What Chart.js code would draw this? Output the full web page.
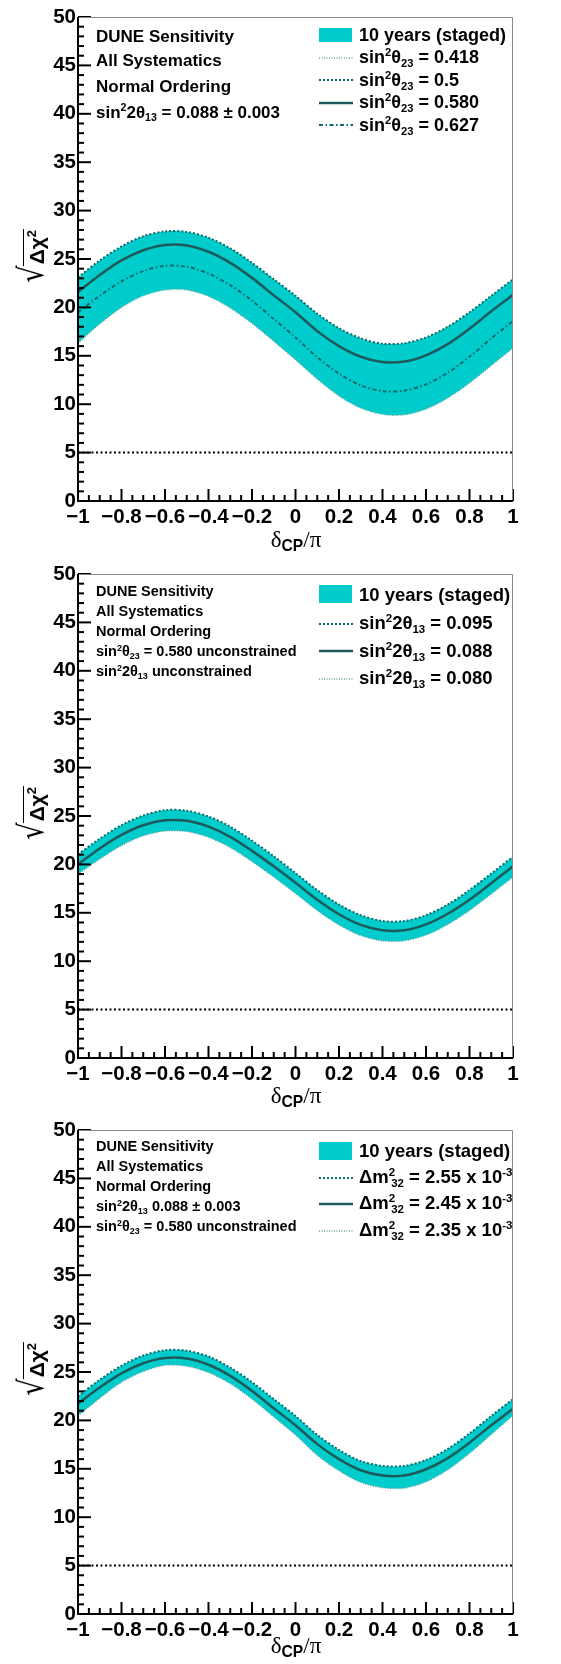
<!DOCTYPE html>
<html>
<head>
<meta charset="utf-8">
<title>DUNE CP sensitivity</title>
<script src="https://cdn.jsdelivr.net/npm/chart.js@4.4.1/dist/chart.umd.min.js"></script>
<style>
  html, body { margin: 0; padding: 0; background: #fff; }
  body { width: 561px; height: 1664px; position: relative; overflow: hidden;
         font-family: "Liberation Sans", Arial, sans-serif; font-weight: bold; color: #000; }
  .panel { position: absolute; left: 0; width: 561px; }
  .panel canvas { position: absolute; left: 0; top: 0; }
  .txt { position: absolute; white-space: nowrap; line-height: 1; }
  sup, sub { font-size: 0.62em; line-height: 0; position: relative; vertical-align: baseline; }
  sup { top: -0.62em; }
  sub { top: 0.34em; }
  .sym { position: absolute; }
  .ytitle { position: absolute; white-space: nowrap; transform: translate(-50%, -50%) rotate(-90deg);
            font-size: 21px; line-height: 1; display: flex; align-items: flex-end; }
  .ytitle .rad { font-family: "DejaVu Sans", sans-serif; font-weight: normal; font-size: 34px; line-height: 1;
                 transform: scaleX(0.8); margin-right: -3px; }
  .ytitle .under { border-top: 1.5px solid #000; padding: 1px 1px 0 2px; line-height: 1.1; }
  .xtitle { position: absolute; white-space: nowrap; line-height: 1; font-size: 23px; transform: translateX(-50%); }
  .xtitle .gr { font-family: "Liberation Serif", serif; font-weight: normal; }
  .xtitle sub { font-size: 0.68em; top: 0.3em; }
</style>
</head>
<body>
<script>
// delta_CP / pi sample points
const deltaCP = [-1, -0.9, -0.8, -0.7, -0.6, -0.5, -0.4, -0.3, -0.2, -0.1, 0,
                 0.1, 0.2, 0.3, 0.4, 0.5, 0.6, 0.7, 0.8, 0.9, 1];

// panel 1: sin^2 theta23 variations
const th23_0500 = [23.1, 24.85, 26.3, 27.35, 27.85, 27.8, 27.2, 26.1, 24.6, 22.9, 21.2,
                   19.35, 17.85, 16.8, 16.25, 16.3, 16.9, 18.0, 19.5, 21.2, 22.9];
const th23_0580 = [21.6, 23.35, 24.85, 25.9, 26.45, 26.4, 25.75, 24.6, 23.05, 21.25, 19.5,
                   17.55, 16.0, 14.9, 14.35, 14.4, 15.05, 16.2, 17.8, 19.6, 21.3];
const th23_0627 = [19.5, 21.2, 22.7, 23.75, 24.3, 24.2, 23.5, 22.3, 20.7, 18.8, 16.9,
                   14.85, 13.15, 11.95, 11.35, 11.4, 12.05, 13.25, 14.9, 16.8, 18.6];
const th23_0418 = [16.3, 18.3, 20.0, 21.2, 21.8, 21.8, 21.15, 19.95, 18.35, 16.5, 14.6,
                   12.6, 10.85, 9.6, 8.95, 8.9, 9.5, 10.65, 12.2, 14.0, 15.8];

// panel 2: sin^2 2theta13 variations
const th13_0095 = [21.05, 22.65, 24.05, 25.05, 25.6, 25.55, 24.95, 23.9, 22.45, 20.85, 19.1,
                   17.35, 15.85, 14.75, 14.15, 14.15, 14.75, 15.85, 17.35, 19.05, 20.8];
const th13_0088 = [20.0, 21.65, 23.05, 24.05, 24.55, 24.5, 23.9, 22.85, 21.4, 19.8, 18.1,
                   16.35, 14.85, 13.75, 13.2, 13.2, 13.8, 14.9, 16.35, 18.05, 19.8];
const th13_0080 = [19.0, 20.55, 21.95, 22.95, 23.45, 23.4, 22.8, 21.75, 20.3, 18.7, 17.0,
                   15.25, 13.75, 12.65, 12.1, 12.1, 12.7, 13.8, 15.25, 16.95, 18.7];

// panel 3: dm^2_32 variations
const dm32_255 = [22.5, 24.2, 25.65, 26.7, 27.25, 27.2, 26.6, 25.45, 23.95, 22.2, 20.45,
                  18.5, 16.95, 15.8, 15.3, 15.3, 15.9, 17.05, 18.65, 20.45, 22.2];
const dm32_245 = [21.75, 23.4, 24.85, 25.9, 26.45, 26.4, 25.75, 24.6, 23.05, 21.25, 19.5,
                  17.55, 16.0, 14.85, 14.3, 14.3, 14.95, 16.1, 17.7, 19.5, 21.2];
const dm32_235 = [20.5, 22.3, 23.95, 25.05, 25.7, 25.6, 24.95, 23.8, 22.2, 20.35, 18.5,
                  16.4, 14.8, 13.6, 13.05, 13.0, 13.65, 14.9, 16.6, 18.55, 20.5];

// 5 sigma reference line
const fiveSigmaX = [-1, 1];
const fiveSigmaY = [5, 5];

// axis ticks
const xTickValues = [-1, -0.8, -0.6, -0.4, -0.2, 0, 0.2, 0.4, 0.6, 0.8, 1];
const yTickValues = [0, 5, 10, 15, 20, 25, 30, 35, 40, 45, 50];

// texts
const bandLabel = '10 years (staged)';
const notes1 = ['DUNE Sensitivity', 'All Systematics', 'Normal Ordering',
                'sin<sup>2</sup>2θ<sub>13</sub> = 0.088 ± 0.003'];
const notes2 = ['DUNE Sensitivity', 'All Systematics', 'Normal Ordering',
                'sin<sup>2</sup>θ<sub>23</sub> = 0.580 unconstrained',
                'sin<sup>2</sup>2θ<sub>13</sub> unconstrained'];
const notes3 = ['DUNE Sensitivity', 'All Systematics', 'Normal Ordering',
                'sin<sup>2</sup>2θ<sub>13</sub> 0.088 ± 0.003',
                'sin<sup>2</sup>θ<sub>23</sub> = 0.580 unconstrained'];
const legend1 = ['sin<sup>2</sup>θ<sub>23</sub> = 0.418', 'sin<sup>2</sup>θ<sub>23</sub> = 0.5',
                 'sin<sup>2</sup>θ<sub>23</sub> = 0.580', 'sin<sup>2</sup>θ<sub>23</sub> = 0.627'];
const legend2 = ['sin<sup>2</sup>2θ<sub>13</sub> = 0.095', 'sin<sup>2</sup>2θ<sub>13</sub> = 0.088',
                 'sin<sup>2</sup>2θ<sub>13</sub> = 0.080'];
const dmSym = 'Δm<sup>2</sup><sub style="margin-left:-0.345em">32</sub>';
const legend3 = [dmSym + ' = 2.55 x 10<sup>-3</sup>', dmSym + ' = 2.45 x 10<sup>-3</sup>',
                 dmSym + ' = 2.35 x 10<sup>-3</sup>'];

const BAND = '#00cccc';
const styles = {
  upper:   { color: '#0b6c6d', width: 2,   dash: [2, 2] },
  lower:   { color: '#64a7a7', width: 1.5, dash: [1, 1.5] },
  solid:   { color: '#1d5a5b', width: 2.5, dash: [] },
  dashdot: { color: '#0b6c6d', width: 2,   dash: [4, 2.5, 1.5, 2.5] }
};

const pts = ys => deltaCP.map((x, i) => ({ x: x, y: ys[i] }));

// ROOT-like inward ticks and frame
const rootFrame = {
  id: 'rootFrame',
  afterDatasetsDraw(chart) {
    const { ctx, chartArea: a, scales: { x, y } } = chart;
    ctx.save();
    ctx.strokeStyle = '#000';
    ctx.lineWidth = 2;
    for (let v = 0; v <= 50; v++) {
      const py = y.getPixelForValue(v);
      const len = v % 5 === 0 ? 13 : 6;
      ctx.beginPath(); ctx.moveTo(a.left, py); ctx.lineTo(a.left + len, py); ctx.stroke();
    }
    for (let i = 0; i <= 40; i++) {
      const px = x.getPixelForValue(-1 + i * 0.05);
      const len = i % 4 === 0 ? 12 : 6;
      ctx.beginPath(); ctx.moveTo(px, a.bottom); ctx.lineTo(px, a.bottom - len); ctx.stroke();
    }
    ctx.strokeStyle = '#888';
    ctx.lineWidth = 1;
    ctx.beginPath();
    ctx.moveTo(a.left, a.top + 0.5); ctx.lineTo(a.right - 0.5, a.top + 0.5); ctx.lineTo(a.right - 0.5, a.bottom);
    ctx.stroke();
    ctx.strokeStyle = '#000';
    ctx.lineWidth = 2;
    ctx.beginPath();
    ctx.moveTo(a.left, a.top); ctx.lineTo(a.left, a.bottom); ctx.lineTo(a.right, a.bottom);
    ctx.stroke();
    ctx.restore();
  }
};

function lineSet(ys, st, order) {
  return {
    data: pts(ys), borderColor: st.color, borderWidth: st.width, borderDash: st.dash,
    pointRadius: 0, fill: false, tension: 0.3, order: order
  };
}

function makePanel(p) {
  const div = document.createElement('div');
  div.className = 'panel';
  div.style.top = p.top + 'px';
  div.style.height = p.height + 'px';
  const cv = document.createElement('canvas');
  cv.width = 561; cv.height = p.height;
  div.appendChild(cv);
  document.body.appendChild(div);

  const datasets = [
    // band (filled to the lower edge, dataset 1)
    { data: pts(p.upper), borderWidth: 0, pointRadius: 0, backgroundColor: BAND,
      fill: { target: 1, above: BAND, below: BAND }, tension: 0.3, order: 100 },
    lineSet(p.lower, styles.lower, 50),
    lineSet(p.upper, styles.upper, 49)
  ];
  p.extra.forEach((e, i) => datasets.push(lineSet(e.ys, styles[e.style], 40 - i)));
  datasets.push({
    data: fiveSigmaX.map((x, i) => ({ x: x, y: fiveSigmaY[i] })),
    borderColor: '#000', borderWidth: 2, borderDash: [2, 2.5], pointRadius: 0, fill: false, order: 1
  });

  new Chart(cv.getContext('2d'), {
    type: 'line',
    data: { datasets: datasets },
    options: {
      responsive: false, animation: false, devicePixelRatio: 1,
      layout: { padding: { top: 17, right: 48, left: 0, bottom: 0 } },
      plugins: { legend: { display: false }, tooltip: { enabled: false } },
      scales: {
        x: {
          type: 'linear', min: -1, max: 1,
          afterBuildTicks: s => { s.ticks = xTickValues.map(v => ({ value: v })); },
          afterFit: s => { s.height = p.height - 501; },
          grid: { display: false, drawTicks: false }, border: { display: false },
          ticks: {
            autoSkip: false, maxRotation: 0, color: '#000', padding: 4,
            font: { family: 'Liberation Sans', weight: 'bold', size: 20.5 },
            callback: v => (v < 0 ? '\u2212' : '') + Math.abs(Math.round(v * 10) / 10)
          }
        },
        y: {
          type: 'linear', min: 0, max: 50,
          afterBuildTicks: s => { s.ticks = yTickValues.map(v => ({ value: v })); },
          afterFit: s => { s.width = 78; },
          grid: { display: false, drawTicks: false }, border: { display: false },
          ticks: {
            autoSkip: false, color: '#000', padding: 2,
            font: { family: 'Liberation Sans', weight: 'bold', size: 20.5 }
          }
        }
      }
    },
    plugins: [rootFrame]
  });

  // text overlays
  const addText = (x, base, size, html) => {
    const d = document.createElement('div');
    d.className = 'txt';
    d.style.left = x + 'px';
    d.style.top = (base - 0.8465 * size) + 'px';
    d.style.fontSize = size + 'px';
    d.innerHTML = html;
    document.body.appendChild(d);
  };
  p.notes.forEach((t, i) => addText(96, p.noteBase[i], p.noteSize, t));

  const box = document.createElement('div');
  box.className = 'sym';
  box.style.cssText = `left:319px;top:${p.boxTop}px;width:33px;height:${p.boxH}px;background:${BAND};`;
  document.body.appendChild(box);
  addText(359, p.legBase[0], p.legSize, bandLabel);

  p.legend.forEach((t, i) => {
    const st = styles[p.legStyles[i]];
    const base = p.legBase[i + 1];
    const svg = document.createElementNS('http://www.w3.org/2000/svg', 'svg');
    svg.setAttribute('width', 34); svg.setAttribute('height', 6);
    svg.setAttribute('class', 'sym');
    svg.style.left = '319px';
    svg.style.top = (base - 6 - 3) + 'px';
    const ln = document.createElementNS('http://www.w3.org/2000/svg', 'line');
    ln.setAttribute('x1', 0); ln.setAttribute('x2', 34); ln.setAttribute('y1', 3); ln.setAttribute('y2', 3);
    ln.setAttribute('stroke', st.color); ln.setAttribute('stroke-width', st.width);
    if (st.dash.length) ln.setAttribute('stroke-dasharray', st.dash.join(' '));
    svg.appendChild(ln);
    document.body.appendChild(svg);
    addText(359, base, p.legSize, t);
  });

  const yt = document.createElement('div');
  yt.className = 'ytitle';
  yt.style.left = '31px';
  yt.style.top = (p.top + 257) + 'px';
  yt.innerHTML = '<span class="rad">\u221A</span><span class="under">Δχ<sup>2</sup></span>';
  document.body.appendChild(yt);

  const xt = document.createElement('div');
  xt.className = 'xtitle';
  xt.style.left = '296px';
  xt.style.top = (p.xTitleBase - 0.8 * 23) + 'px';
  xt.innerHTML = '<span class="gr">δ</span><sub>CP</sub><span class="gr">/π</span>';
  document.body.appendChild(xt);
}

makePanel({
  top: 0, height: 557,
  upper: th23_0500, lower: th23_0418,
  extra: [{ ys: th23_0580, style: 'solid' }, { ys: th23_0627, style: 'dashdot' }],
  notes: notes1, noteSize: 17, noteBase: [42, 66, 92, 118],
  legend: legend1, legStyles: ['lower', 'upper', 'solid', 'dashdot'],
  legSize: 18, legBase: [41.7, 63.5, 86, 108.5, 131], boxTop: 28, boxH: 14,
  xTitleBase: 546
});
makePanel({
  top: 557, height: 556,
  upper: th13_0095, lower: th13_0080,
  extra: [{ ys: th13_0088, style: 'solid' }],
  notes: notes2, noteSize: 14.5, noteBase: [596, 616, 636.5, 656.7, 676.7],
  legend: legend2, legStyles: ['upper', 'solid', 'lower'],
  legSize: 18.5, legBase: [601.7, 630, 657.3, 685], boxTop: 585, boxH: 18,
  xTitleBase: 1102
});
makePanel({
  top: 1113, height: 551,
  upper: dm32_255, lower: dm32_235,
  extra: [{ ys: dm32_245, style: 'solid' }],
  notes: notes3, noteSize: 14.5, noteBase: [1151.7, 1171.7, 1191.7, 1211.7, 1231.7],
  legend: legend3, legStyles: ['upper', 'solid', 'lower'],
  legSize: 18.5, legBase: [1157.7, 1184, 1210, 1236.7], boxTop: 1141.5, boxH: 18,
  xTitleBase: 1652
});
</script>
</body>
</html>
